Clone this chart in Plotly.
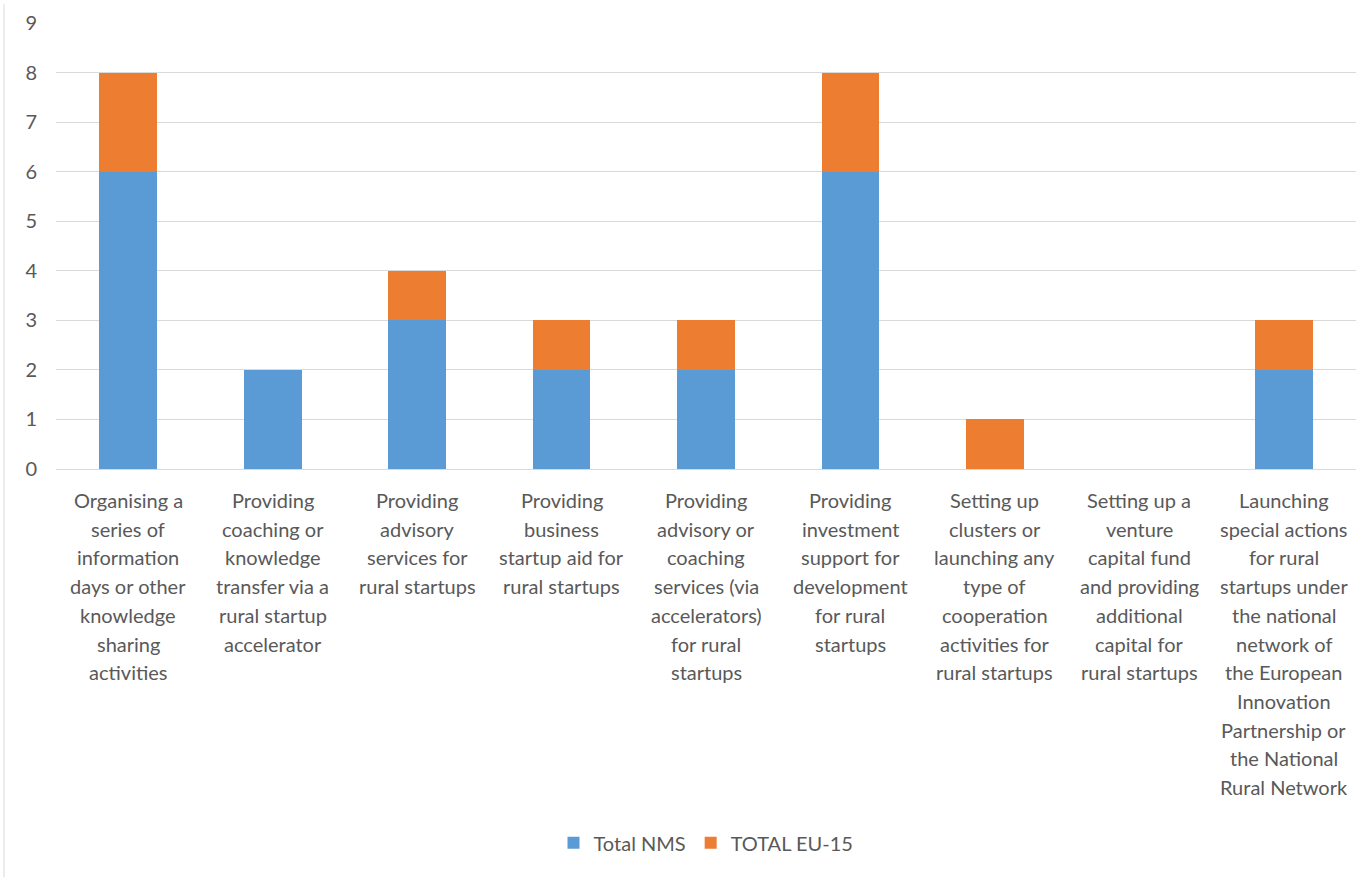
import plotly.graph_objects as go

categories = [
    "Organising a<br>series of<br>information<br>days or other<br>knowledge<br>sharing<br>activities",
    "Providing<br>coaching or<br>knowledge<br>transfer via a<br>rural startup<br>accelerator",
    "Providing<br>advisory<br>services for<br>rural startups",
    "Providing<br>business<br>startup aid for<br>rural startups",
    "Providing<br>advisory or<br>coaching<br>services (via<br>accelerators)<br>for rural<br>startups",
    "Providing<br>investment<br>support for<br>development<br>for rural<br>startups",
    "Setting up<br>clusters or<br>launching any<br>type of<br>cooperation<br>activities for<br>rural startups",
    "Setting up a<br>venture<br>capital fund<br>and providing<br>additional<br>capital for<br>rural startups",
    "Launching<br>special actions<br>for rural<br>startups under<br>the national<br>network of<br>the European<br>Innovation<br>Partnership or<br>the National<br>Rural Network",
]
total_nms = [6, 2, 3, 2, 2, 6, 0, 0, 2]
total_eu15 = [2, 0, 1, 1, 1, 2, 1, 0, 1]
y_ticks = list(range(0, 10))

FONT = "Lato, Carlito, Calibri, sans-serif"
TXT = "#595959"

fig = go.Figure()
fig.add_trace(go.Bar(x=categories, y=total_nms, name="Total NMS",
                     marker=dict(color="#5B9BD5", line=dict(width=0))))
fig.add_trace(go.Bar(x=categories, y=total_eu15, name="TOTAL EU-15",
                     marker=dict(color="#ED7D31", line=dict(width=0))))

# category labels, one annotation per line for Excel-like line spacing
annotations = []
for cat in categories:
    for i, line in enumerate(cat.split("<br>")):
        annotations.append(dict(x=cat, y=0, xref="x", yref="y", text=line,
                                showarrow=False, xanchor="center", yanchor="middle",
                                yshift=-(31 + 28.7 * i),
                                font=dict(family=FONT, size=20, color=TXT)))

fig.update_layout(
    barmode="stack",
    bargap=0.6,
    width=1366, height=881,
    margin=dict(l=56, r=10, t=19, b=412),
    paper_bgcolor="white", plot_bgcolor="white",
    font=dict(family=FONT, size=19, color=TXT),
    showlegend=True,
    legend=dict(orientation="h", x=0.5, xanchor="center", y=-0.838, yanchor="middle",
                font=dict(size=20, color=TXT), traceorder="normal", itemwidth=30),
    xaxis=dict(showgrid=False, showline=True, linecolor="#D9D9D9", linewidth=1,
               ticks="", showticklabels=False),
    yaxis=dict(range=[0, 9], tickvals=y_ticks, showgrid=True, gridcolor="#D9D9D9",
               gridwidth=1, zeroline=False, showline=False, ticks="",
               ticklabelstandoff=18, tickfont=dict(size=20, color=TXT)),
    annotations=annotations,
    shapes=[dict(type="line", xref="paper", yref="paper",
                 x0=-52/1300, x1=-52/1300, y0=-412/450, y1=1 + 19/450,
                 line=dict(color="#D9D9D9", width=1))],
)

fig.write_html("out.html")
